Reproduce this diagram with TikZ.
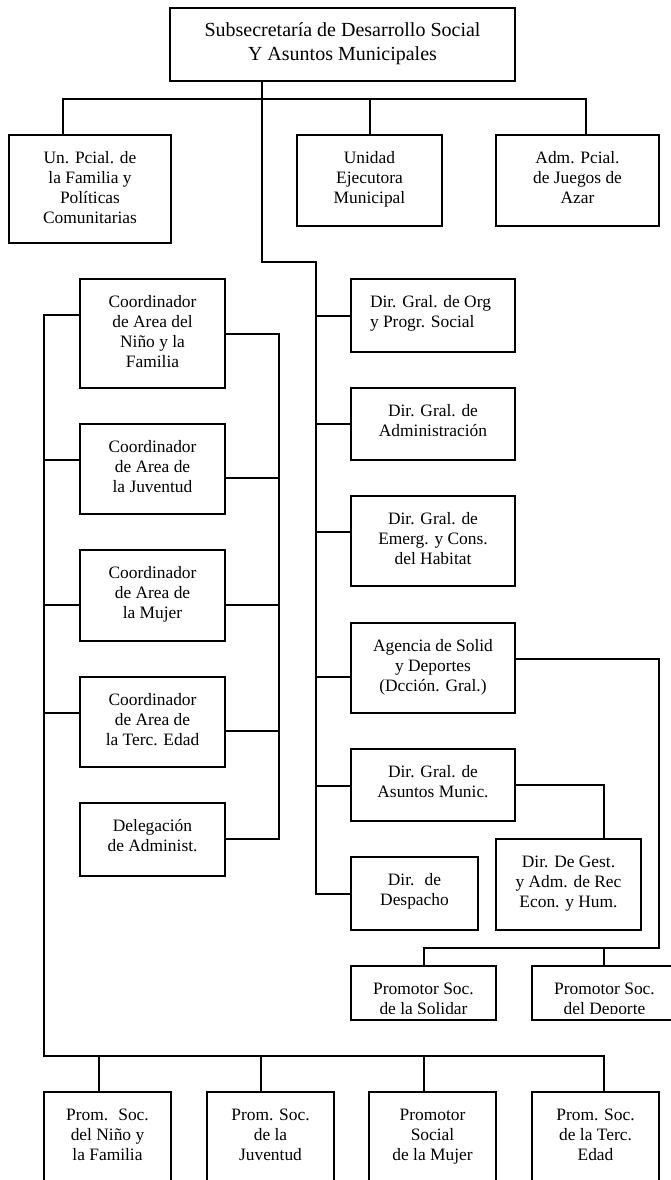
\documentclass[tikz,border=0pt]{standalone}
\usepackage{fontspec}
\setmainfont{Liberation Serif}
\tikzset{
  x=1pt, y=-1pt,
  box/.style={draw, line width=1.7pt, rectangle, inner sep=0pt, outer sep=0pt},
  txt/.style={inner sep=0pt, outer sep=0pt, align=center, font=\fontsize{17.4}{20}\selectfont},
  ln/.style={line width=1.7pt}
}
\newcommand\mybox[6]{%
  \pgfmathsetmacro\bw{#4-#2}\pgfmathsetmacro\bh{#5-#3}%
  \node[box, minimum width=\bw pt, minimum height=\bh pt] (#1) at ({(#2+#4)/2},{(#3+#5)/2}) {};
  \node[txt, anchor=north] (#1-t) at ({(#2+#4)/2},{#3+14}) {\strut #6};
}
\begin{document}
\begin{tikzpicture}
\useasboundingbox (0,0) rectangle (671,1180);
\fill[white] (0,0) rectangle (671,1180);
\clip (0,0) rectangle (671,1180);

% top
\node[box, minimum width=345pt, minimum height=73pt] (top) at (342.5,44.5) {};
\node[txt, font=\fontsize{20}{24}\selectfont, anchor=north] (top-t) at (342.5,20) {\strut Subsecretaría de Desarrollo Social\\Y Asuntos Municipales};

\mybox{un}{9}{135}{171}{243}{Un. Pcial. de\\la Familia y\\Políticas\\Comunitarias}
\mybox{ue}{297}{135}{442}{226}{Unidad\\Ejecutora\\Municipal}
\mybox{adm}{496}{135}{659}{226}{Adm. Pcial.\\de Juegos de\\Azar}

% left column
\mybox{cn}{80}{279}{225}{388}{Coordinador\\de Area del\\Niño y la\\Familia}
\mybox{cj}{80}{424}{225}{514}{Coordinador\\de Area de\\la Juventud}
\mybox{cm}{80}{550}{225}{641}{Coordinador\\de Area de\\la Mujer}
\mybox{ct}{80}{677}{225}{767}{Coordinador\\de Area de\\la Terc. Edad}
\mybox{dl}{80}{803}{225}{876}{Delegación\\de Administ.}

% right column
\node[box, minimum width=164pt, minimum height=73pt] (d1) at (433,315.5) {};
\node[txt, align=left, anchor=north west] (d1-t) at (370,293) {\strut Dir. Gral. de Org\\y Progr. Social};
\mybox{d2}{351}{388}{515}{460}{Dir. Gral. de\\Administración}
\mybox{d3}{351}{496}{515}{586}{Dir. Gral. de\\Emerg. y Cons.\\del Habitat}
\mybox{ag}{351}{623}{515}{713}{Agencia de Solid\\y Deportes\\(Dcción. Gral.)}
\mybox{am}{351}{749}{515}{821}{Dir. Gral. de\\Asuntos Munic.}
\mybox{dp}{351}{857}{478}{930}{Dir.~ de\\Despacho}
\mybox{dg}{496}{839}{641}{930}{Dir. De Gest.\\y Adm. de Rec\\Econ. y Hum.}

% promotores (text clipped)
\node[box, minimum width=145pt, minimum height=54pt] (ps) at (423.5,993) {};
\node[box, minimum width=145pt, minimum height=54pt] (pd) at (604.5,993) {};
\begin{scope}
\clip (351,966) rectangle (677,1013);
\node[txt, anchor=north] (ps-t) at (423.5,980) {\strut Promotor Soc.\\de la Solidar};
\node[txt, anchor=north] (pd-t) at (604.5,980) {\strut Promotor Soc.\\del Deporte};
\end{scope}

% bottom row (open at bottom)
\mybox{pn}{44}{1092}{171}{1200}{Prom.~ Soc.\\del Niño y\\la Familia}
\mybox{pj}{207}{1092}{334}{1200}{Prom. Soc.\\de la\\Juventud}
\mybox{pm}{369}{1092}{496}{1200}{Promotor\\Social\\de la Mujer}
\mybox{pt}{532}{1092}{659}{1200}{Prom. Soc.\\de la Terc.\\Edad}

% connectors: top level
\coordinate (s1) at (262,99);
\coordinate (b1) at (63,99);
\coordinate (b2) at (370,99);
\coordinate (b3) at (586,99);
\draw[ln] (top.south -| s1) -- (s1);
\draw[ln] (un.north -| b1) -- (b1) -- (b3) -- (adm.north -| b3);
\draw[ln] (b2) -- (ue.north -| b2);

% spine
\coordinate (s2) at (262,262);
\coordinate (s3) at (316,262);
\coordinate (sd) at (316,894);
\draw[ln] (s1) -- (s2) -- (s3) -- (sd) -- (dp.west |- sd);
\foreach \n/\yy in {d1/316,d2/424,d3/532,ag/677,am/786}{
  \coordinate (sp-\n) at (316,\yy);
  \draw[ln] (sp-\n) -- (\n.west |- sp-\n);
}

% left bus
\coordinate (lb) at (44,1056);
\coordinate (lbe) at (604,1056);
\draw[ln] (cn.west |- 0,315) -| (lb) -- (lbe) -- (pt.north -| lbe);
\foreach \n/\yy in {cj/460,cm/605,ct/713}{
  \coordinate (lp-\n) at (44,\yy);
  \draw[ln] (lp-\n) -- (\n.west |- lp-\n);
}
\foreach \n/\xx in {pn/99,pj/261,pm/424}{
  \coordinate (bp-\n) at (\xx,1056);
  \draw[ln] (bp-\n) -- (\n.north -| bp-\n);
}

% right bus
\coordinate (rb) at (279,839);
\draw[ln] (cn.east |- 0,334) -| (rb) -- (dl.east |- rb);
\foreach \n/\yy in {cj/478,cm/605,ct/731}{
  \coordinate (rp-\n) at (279,\yy);
  \draw[ln] (\n.east |- rp-\n) -- (rp-\n);
}

% agencia -> promotores
\coordinate (a1) at (659,948);
\coordinate (a2) at (424,948);
\coordinate (a3) at (604,948);
\draw[ln] (ag.east |- 0,659) -| (a1) -- (a2) -- (ps.north -| a2);
\draw[ln] (a3) -- (pd.north -| a3);

% asuntos -> gestion
\draw[ln] (am.east) -| (dg.north -| 604,0);
\end{tikzpicture}
\end{document}
